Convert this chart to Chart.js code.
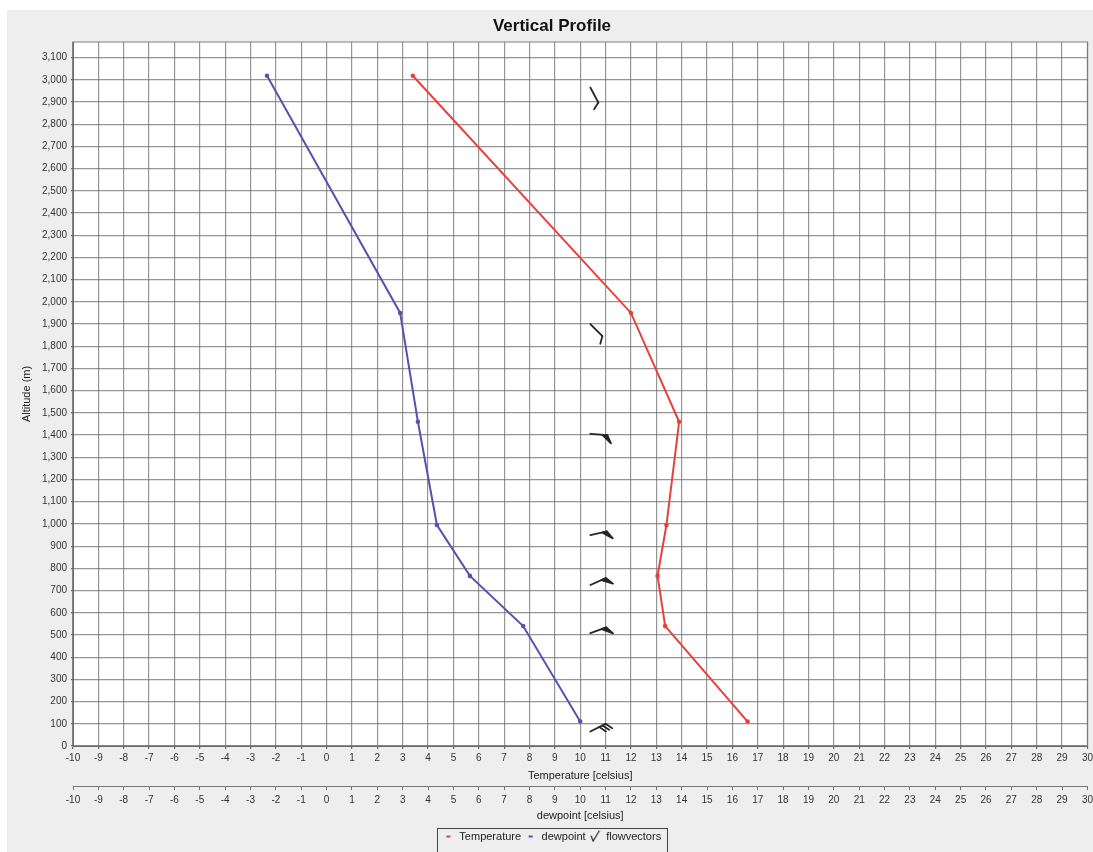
<!DOCTYPE html>
<html>
<head>
<meta charset="utf-8">
<script src="https://cdn.jsdelivr.net/npm/chart.js@4/dist/chart.umd.min.js"></script>
<style>
  html, body { margin: 0; padding: 0; background: #eeeeee; overflow: hidden; }
  #wrap { position: absolute; left: 0; top: 0; width: 1093px; height: 852px; overflow: hidden; }
</style>
</head>
<body>
<div id="wrap"><canvas id="c" width="1097" height="852"></canvas></div>
<script>
// ---- data ----
const altitudes   = [110, 540, 766, 995, 1460, 1950, 3018];
const temperature = [16.6, 13.35, 13.05, 13.4, 13.9, 12.0, 3.4];
const dewpoint    = [10.0, 7.75, 5.65, 4.35, 3.6, 2.9, -2.35];

const barbAltitudes = [65, 508, 725, 950, 1405, 1900, 2965];
const barbColumn    = [10.4, 10.4, 10.4, 10.4, 10.4, 10.4, 10.4];
const barbAngles    = [-27, -20, -24, -12, 4, 45, 62];     // screen angle of staff (deg)
const barbSpeeds    = [30, 50, 50, 50, 50, 10, 10];        // knots

const xMin = -10, xMax = 30, xStep = 1;
const yMin = 0, yMax = 3170, yStep = 100;

const titleText = 'Vertical Profile';
const xTitle = 'Temperature [celsius]';
const x2Title = 'dewpoint [celsius]';
const yTitle = 'Altitude (m)';
const seriesNames = ['Temperature', 'dewpoint', 'flowvectors'];

// ---- styles ----
const RED = 'rgb(232,64,60)';
const BLUE = 'rgb(84,84,176)';
const BARB = '#262626';
const GRID = 'rgba(115,115,115,0.75)';
const FONT = "'Liberation Sans', Arial, sans-serif";

function drawBarb(ctx, x, y, angDeg, speed, L) {
  const a = angDeg * Math.PI / 180;
  const dx = Math.cos(a), dy = Math.sin(a);
  const ex = x + dx * L, ey = y + dy * L;
  ctx.save();
  ctx.strokeStyle = BARB; ctx.fillStyle = BARB;
  ctx.lineWidth = 1.8; ctx.lineCap = 'round'; ctx.lineJoin = 'round';
  ctx.beginPath(); ctx.moveTo(x, y); ctx.lineTo(ex, ey); ctx.stroke();
  const fa = a + 60 * Math.PI / 180;
  const fx = Math.cos(fa), fy = Math.sin(fa);
  let pos = 0, s = speed;
  while (s >= 50) {
    const p1x = ex - dx * pos, p1y = ey - dy * pos;
    const p2x = ex - dx * (pos + 5), p2y = ey - dy * (pos + 5);
    const ta = a + 62 * Math.PI / 180;
    ctx.beginPath();
    ctx.moveTo(p2x, p2y); ctx.lineTo(p1x, p1y);
    ctx.lineTo(p1x + Math.cos(ta) * 9, p1y + Math.sin(ta) * 9);
    ctx.closePath(); ctx.fill(); ctx.stroke();
    pos += 6; s -= 50;
  }
  while (s >= 10) {
    const px = ex - dx * pos, py = ey - dy * pos;
    ctx.beginPath(); ctx.moveTo(px, py); ctx.lineTo(px + fx * 8, py + fy * 8); ctx.stroke();
    pos += 3.5; s -= 10;
  }
  if (s >= 5) {
    const px = ex - dx * pos, py = ey - dy * pos;
    ctx.beginPath(); ctx.moveTo(px, py); ctx.lineTo(px + fx * 4, py + fy * 4); ctx.stroke();
  }
  ctx.restore();
}

function makeIcon(w, h, fn) {
  const c = document.createElement('canvas');
  c.width = w; c.height = h;
  fn(c.getContext('2d'));
  return c;
}
const iconTemp = makeIcon(6, 10, g => { g.fillStyle = RED; g.fillRect(1, 4, 4, 2); });
const iconDew  = makeIcon(6, 10, g => { g.fillStyle = BLUE; g.fillRect(1, 4, 4, 2); });
const iconBarb = makeIcon(12, 13, g => {
  g.strokeStyle = BARB; g.lineWidth = 1.2; g.lineCap = 'round';
  g.beginPath(); g.moveTo(10, 1); g.lineTo(4, 11); g.stroke();
  g.beginPath(); g.moveTo(4, 11); g.lineTo(2, 6); g.stroke();
});
const icons = [iconTemp, iconDew, iconBarb];

const bgPlugin = {
  id: 'bg',
  beforeDraw(chart) {
    const ctx = chart.ctx, ca = chart.chartArea;
    ctx.save();
    ctx.fillStyle = '#ffffff'; ctx.fillRect(0, 0, chart.width, chart.height);
    ctx.fillStyle = '#eeeeee'; ctx.fillRect(7, 10, chart.width - 7, chart.height - 10);
    ctx.fillStyle = '#ffffff'; ctx.fillRect(ca.left, ca.top, ca.right - ca.left, ca.bottom - ca.top);
    ctx.restore();
  },
  afterDraw(chart) {
    const ctx = chart.ctx, ca = chart.chartArea;
    ctx.save();
    ctx.strokeStyle = GRID; ctx.lineWidth = 1.2;
    ctx.strokeRect(ca.left, ca.top, ca.right - ca.left, ca.bottom - ca.top);
    const lg = chart.legend;
    if (lg && lg.legendHitBoxes && lg.legendHitBoxes.length) {
      const hb = lg.legendHitBoxes;
      const l = Math.min(...hb.map(b => b.left)) - 6;
      const r = Math.max(...hb.map(b => b.left + b.width)) + 6;
      const t = Math.min(...hb.map(b => b.top)) - 3;
      ctx.strokeStyle = '#444'; ctx.lineWidth = 1;
      ctx.strokeRect(Math.round(l) + 0.5, Math.round(t) + 0.5, Math.round(r - l), chart.height);
    }
    ctx.restore();
  }
};

const barbPlugin = {
  id: 'barbs',
  afterDatasetsDraw(chart) {
    const meta = chart.getDatasetMeta(2);
    const ctx = chart.ctx, ca = chart.chartArea;
    ctx.save();
    ctx.beginPath(); ctx.rect(ca.left, ca.top, ca.right - ca.left, ca.bottom - ca.top); ctx.clip();
    meta.data.forEach((pt, i) => drawBarb(ctx, pt.x, pt.y, barbAngles[i], barbSpeeds[i], 17));
    ctx.restore();
  }
};

const tempData = altitudes.map((a, i) => ({ x: temperature[i], y: a }));
const dewData = altitudes.map((a, i) => ({ x: dewpoint[i], y: a }));
const barbData = barbAltitudes.map((a, i) => ({ x: barbColumn[i], y: a }));

const tickFont = { family: FONT, size: 10 };
const titleFont = { family: FONT, size: 11 };

new Chart(document.getElementById('c'), {
  type: 'scatter',
  data: {
    datasets: [
      { label: seriesNames[0], data: tempData, xAxisID: 'x', yAxisID: 'y', showLine: true,
        borderColor: RED, backgroundColor: RED, borderWidth: 2, pointRadius: 1.3, pointHoverRadius: 1.3 },
      { label: seriesNames[1], data: dewData, xAxisID: 'x2', yAxisID: 'y', showLine: true,
        borderColor: BLUE, backgroundColor: BLUE, borderWidth: 2, pointRadius: 1.3, pointHoverRadius: 1.3 },
      { label: seriesNames[2], data: barbData, xAxisID: 'x', yAxisID: 'y', showLine: false,
        borderColor: BARB, backgroundColor: BARB, pointRadius: 0, pointHoverRadius: 0 }
    ]
  },
  options: {
    responsive: false,
    animation: false,
    events: [],
    layout: { padding: { left: 7, top: 10, right: 0, bottom: 0 } },
    plugins: {
      title: { display: true, text: titleText, color: '#111',
        font: { family: FONT, size: 17, weight: 'bold' }, padding: { top: 6, bottom: 5.6 } },
      legend: {
        display: true, position: 'bottom',
        labels: {
          usePointStyle: true, color: '#222', font: { family: FONT, size: 11 }, padding: 4,
          generateLabels(chart) {
            return chart.data.datasets.map((ds, i) => ({
              text: ds.label, pointStyle: icons[i], fillStyle: 'transparent',
              strokeStyle: 'transparent', lineWidth: 0, datasetIndex: i, hidden: false, fontColor: '#222'
            }));
          }
        }
      },
      tooltip: { enabled: false }
    },
    scales: {
      x: {
        type: 'linear', position: 'bottom', min: xMin, max: xMax,
        ticks: { stepSize: xStep, autoSkip: false, maxRotation: 0, font: tickFont, color: '#333', padding: 3 },
        grid: { color: GRID, lineWidth: 1.2, tickLength: 3, tickColor: '#666' },
        border: { display: true, color: '#666' },
        title: { display: true, text: xTitle, font: titleFont, color: '#222', padding: { top: 0, bottom: 3.4 } },
        afterFit(s) { s.height = 40; }
      },
      x2: {
        type: 'linear', position: 'bottom', min: xMin, max: xMax,
        ticks: { stepSize: xStep, autoSkip: false, maxRotation: 0, font: tickFont, color: '#333', padding: 4 },
        grid: { drawOnChartArea: false, tickLength: 4, tickColor: '#777' },
        border: { display: true, color: '#777' },
        title: { display: true, text: x2Title, font: titleFont, color: '#222', padding: { top: 0, bottom: 4 } },
        afterFit(s) { s.height = 41; }
      },
      y: {
        type: 'linear', position: 'left', min: yMin, max: yMax,
        afterBuildTicks(s) { s.ticks = s.ticks.filter(t => t.value % yStep === 0); },
        ticks: { stepSize: yStep, autoSkip: false, font: tickFont, color: '#333', padding: 4,
          callback: v => v.toLocaleString('en-US') },
        grid: { color: GRID, lineWidth: 1.2, tickLength: 2, tickColor: '#666' },
        border: { display: true, color: '#666' },
        title: { display: true, text: yTitle, font: titleFont, color: '#222', padding: { top: 13, bottom: 0 } },
        afterFit(s) { s.width = 66; }
      }
    }
  },
  plugins: [bgPlugin, barbPlugin]
});
</script>
</body>
</html>
